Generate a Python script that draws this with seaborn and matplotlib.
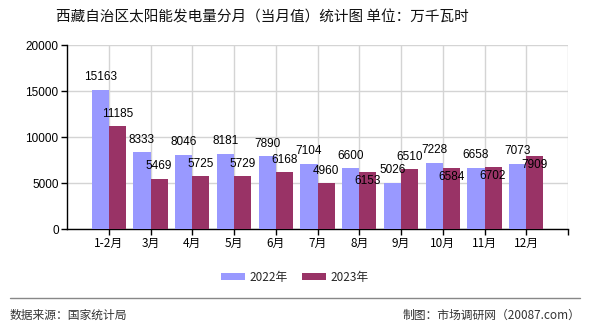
import matplotlib
matplotlib.use("Agg")
import matplotlib.pyplot as plt
import seaborn as sns
import pandas as pd
from matplotlib.lines import Line2D
from matplotlib.patches import Patch

categories = ["1-2月", "3月", "4月", "5月", "6月", "7月", "8月", "9月", "10月", "11月", "12月"]
values_2022 = [15163, 8333, 8046, 8181, 7890, 7104, 6600, 5026, 7228, 6658, 7073]
values_2023 = [11185, 5469, 5725, 5729, 6168, 4960, 6153, 6510, 6584, 6702, 7909]
series_names = ["2022年", "2023年"]
colors = ["#9999FF", "#993366"]
y_ticks = [0, 5000, 10000, 15000, 20000]

title = "西藏自治区太阳能发电量分月（当月值）统计图 单位：万千瓦时"
source_text = "数据来源：国家统计局"
maker_text = "制图：市场调研网（20087.com）"

sns.set_theme(style="white")
plt.rcParams['font.family'] = ['Noto Sans CJK SC', 'DejaVu Sans']
num_font = ['Liberation Sans', 'DejaVu Sans']

df = pd.DataFrame({
    "month": categories * 2,
    "value": values_2022 + values_2023,
    "year": [series_names[0]] * len(categories) + [series_names[1]] * len(categories),
})

fig = plt.figure(figsize=(5.9, 3.3), dpi=100)
ax = fig.add_axes([67/590, 1-229/330, (568-67)/590, (229-45)/330])

sns.barplot(data=df, x="month", y="value", hue="year", palette=colors,
            width=0.82, gap=0, ax=ax, legend=False, saturation=1, zorder=3,
            edgecolor="none", linewidth=0)

ax.set_xlim(-1, 11)
ax.set_ylim(0, 20000)
ax.set_yticks(y_ticks)
ax.set_yticklabels([str(t) for t in y_ticks], fontsize=8.5, family=num_font)
ax.set_xticks(list(range(len(categories))) + [11])
ax.set_xticklabels(categories + [""], fontsize=8.5)
ax.set_xlabel("")
ax.set_ylabel("")

ax.grid(True, axis="both", color="#d4d4d4", linewidth=1, zorder=0)
ax.set_axisbelow(True)
for s in ["top", "right"]:
    ax.spines[s].set_visible(False)
for s in ["left", "bottom"]:
    ax.spines[s].set_color("black")
    ax.spines[s].set_linewidth(1)
ax.tick_params(axis="both", which="both", direction="out", length=4, width=1,
               color="black", bottom=True, left=True, pad=2, labelcolor="black")

# value labels
cont22, cont23 = ax.containers[0], ax.containers[1]
for bar, v in zip(cont22, values_2022):
    ax.annotate(str(v), (bar.get_x() + bar.get_width()/2, bar.get_height()),
                xytext=(0, 9), textcoords="offset points", ha="center", va="center",
                fontsize=8.5, family=num_font, color="black", zorder=5)
for bar, v, o in zip(cont23, values_2023, values_2022):
    dy = 9 if abs(v - o) >= 1400 else -6
    ax.annotate(str(v), (bar.get_x() + bar.get_width()/2, bar.get_height()),
                xytext=(0, dy), textcoords="offset points", ha="center", va="center",
                fontsize=8.5, family=num_font, color="black", zorder=5)

fig.text(262/590, 1-17/330, title, ha="center", va="center", fontsize=10.5, color="#111111")

handles = [Patch(facecolor=c, edgecolor="none") for c in colors]
fig.legend(handles, series_names, loc="center", bbox_to_anchor=(0.5, 1-277/330),
           ncol=2, frameon=False, fontsize=8.5, handlelength=2.0, handleheight=0.55,
           columnspacing=1.2, handletextpad=0.4)

fig.add_artist(Line2D([10/590, 580/590], [1-298/330, 1-298/330], color="#888888", linewidth=1))
fig.text(10/590, 1-315/330, source_text, ha="left", va="center", fontsize=8.5, color="#333333")
fig.text(580/590, 1-315/330, maker_text, ha="right", va="center", fontsize=8.5, color="#333333")

fig.savefig("out.png", dpi=100)
